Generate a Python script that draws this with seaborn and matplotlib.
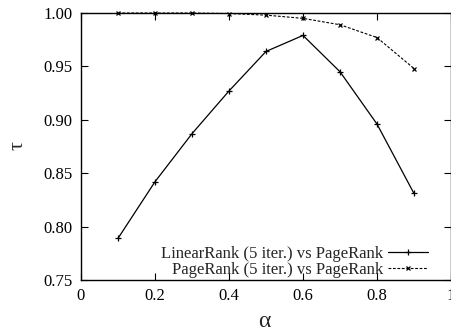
import matplotlib
matplotlib.use("Agg")
import matplotlib.pyplot as plt
import seaborn as sns
import pandas as pd

alpha = [0.1, 0.2, 0.3, 0.4, 0.5, 0.6, 0.7, 0.8, 0.9]
linear_rank = [0.789, 0.842, 0.887, 0.927, 0.964, 0.979, 0.945, 0.896, 0.831]
page_rank_5 = [1.000, 1.000, 1.000, 0.9995, 0.998, 0.995, 0.989, 0.977, 0.948]
series_names = ["LinearRank (5 iter.) vs PageRank", "PageRank (5 iter.) vs PageRank"]
x_ticks = [0, 0.2, 0.4, 0.6, 0.8, 1]
x_tick_labels = ["0", "0.2", "0.4", "0.6", "0.8", "1"]
y_ticks = [0.75, 0.80, 0.85, 0.90, 0.95, 1.00]

sns.set_style("ticks")
plt.rcParams["font.family"] = ["Liberation Serif", "DejaVu Serif"]

df_lin = pd.DataFrame({"alpha": alpha, "tau": linear_rank})
df_pr = pd.DataFrame({"alpha": alpha, "tau": page_rank_5})

fig = plt.figure(figsize=(4.52, 3.31), dpi=100)
ax = fig.add_axes([81 / 452, 51 / 331, 370 / 452, 267 / 331])

sns.lineplot(data=df_lin, x="alpha", y="tau", ax=ax, color="black", lw=0.9,
             marker="+", markersize=4, markeredgewidth=0.9,
             markeredgecolor="black", clip_on=False,
             label=series_names[0])
sns.lineplot(data=df_pr, x="alpha", y="tau", ax=ax, color="black", lw=0.8,
             marker="x", markersize=3.5, markeredgewidth=0.9,
             markeredgecolor="black", clip_on=False,
             linestyle=(0, (2.5, 1.5)), label=series_names[1])

ax.set_xlim(0, 1)
ax.set_ylim(0.75, 1.0)
ax.set_xticks(x_ticks)
ax.set_xticklabels(x_tick_labels)
ax.set_yticks(y_ticks)
ax.set_yticklabels([f"{v:.2f}" for v in y_ticks])
ax.tick_params(direction="in", length=5, width=0.8, top=True, right=True,
               labelsize=12, colors="black")
ax.tick_params(axis="y", pad=6)
ax.tick_params(axis="x", pad=6)
for s in ax.spines.values():
    s.set_linewidth(1.0)
    s.set_color("black")

ax.set_xlabel("α", fontsize=17)
ax.set_ylabel("τ", fontsize=16, rotation=90)
ax.xaxis.set_label_coords(0.495, -0.154)
ax.yaxis.set_label_coords(-0.170, 0.502)
ax.xaxis.label.set_va("center")
ax.yaxis.label.set_va("center")

leg = ax.legend(loc="lower right", bbox_to_anchor=(0.938, 0.008),
                markerfirst=False, frameon=False, fontsize=12,
                handlelength=2.4, handletextpad=0.3, labelspacing=0.0,
                borderpad=0, borderaxespad=0)
for t in leg.get_texts():
    t.set_ha("right")

fig.savefig("out.png", dpi=100)
